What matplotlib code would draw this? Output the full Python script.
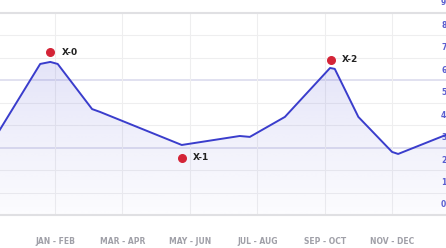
"""
Bimonthly line chart with annotated points
"""

import matplotlib.pyplot as plt
import numpy as np
from matplotlib.patches import Polygon

# category labels on the x axis (one per grid column)
periods = ['JAN - FEB', 'MAR - APR', 'MAY - JUN', 'JUL - AUG', 'SEP - OCT', 'NOV - DEC']

# line points, x in category units
line_x = [-0.82, -0.22, -0.07, 0.04, 0.55, 0.67, 1.88, 2.74, 2.89, 3.41, 4.08, 4.15, 4.50, 5.00, 5.09, 5.80]
line_y = [3.79, 6.73, 6.82, 6.73, 4.72, 4.59, 3.12, 3.52, 3.48, 4.37, 6.55, 6.51, 4.37, 2.81, 2.72, 3.57]

# marked points
mark_names = ['X-0', 'X-1', 'X-2']
mark_x = [-0.07, 1.88, 4.09]
mark_y = [7.26, 2.54, 6.91]

# right side scale labels
right_labels = ['0', '1', '2', '3', '4', '5', '6', '7', '8', '9']


def main() -> None:
    fig = plt.figure(figsize=(4.46, 2.48), dpi=100)
    ax = fig.add_axes([0, 33 / 248, 1, 202 / 248])
    ax.set_xlim(-0.816, 5.80)
    ax.set_ylim(0, 9)

    # grid
    for v in range(1, 9):
        col = '#dcdcee' if v in (3, 6) else '#eeeeef'
        lw = 1.2 if v in (3, 6) else 0.8
        ax.axhline(v, color=col, lw=lw, zorder=0)
    for i in range(len(periods)):
        ax.axvline(i, color='#eeeeef', lw=0.8, zorder=0)

    for s in ['left', 'right']:
        ax.spines[s].set_visible(False)
    for s in ['top', 'bottom']:
        ax.spines[s].set_color('#e0e0e3')
        ax.spines[s].set_linewidth(1.5)

    # gradient fill below the line (stronger at the top, fading down)
    verts = list(zip(line_x, line_y)) + [(line_x[-1], 0), (line_x[0], 0)]
    poly = Polygon(verts, closed=True, facecolor='none', edgecolor='none')
    ax.add_patch(poly)
    grad = np.linspace(0, 1, 256).reshape(-1, 1)
    rgba = np.zeros((256, 1, 4))
    rgba[..., 0] = 0.40
    rgba[..., 1] = 0.40
    rgba[..., 2] = 0.85
    rgba[..., 3] = 0.02 + 0.16 * grad
    img = ax.imshow(rgba, extent=[-0.816, 5.80, 0, 7], origin='lower',
                    aspect='auto', zorder=1)
    img.set_clip_path(poly)

    ax.plot(line_x, line_y, color='#3a3dcc', lw=1.4, zorder=3,
            solid_joinstyle='round')

    ax.scatter(mark_x, mark_y, s=30, color='#d42437', zorder=4)
    for name, x, y in zip(mark_names, mark_x, mark_y):
        ax.text(x + 0.17, y, name, fontsize=6.5, fontweight='bold',
                color='#222222', va='center', ha='left', zorder=5)

    # right labels, cut by the figure edge like in the source
    for i, lab in enumerate(right_labels):
        ax.text(0.989, i + 0.45, lab, transform=ax.get_yaxis_transform(),
                fontsize=5.5, color='#5a5ecf', va='center', ha='left',
                fontweight='bold', clip_on=False, zorder=2)

    ax.set_xticks(range(len(periods)))
    ax.set_xticklabels(periods, fontsize=5.5, color='#a0a0a8', fontweight='bold')
    ax.tick_params(axis='x', length=0, pad=16)
    ax.set_yticks([])

    fig.savefig('out.png', dpi=100)


if __name__ == '__main__':
    main()
